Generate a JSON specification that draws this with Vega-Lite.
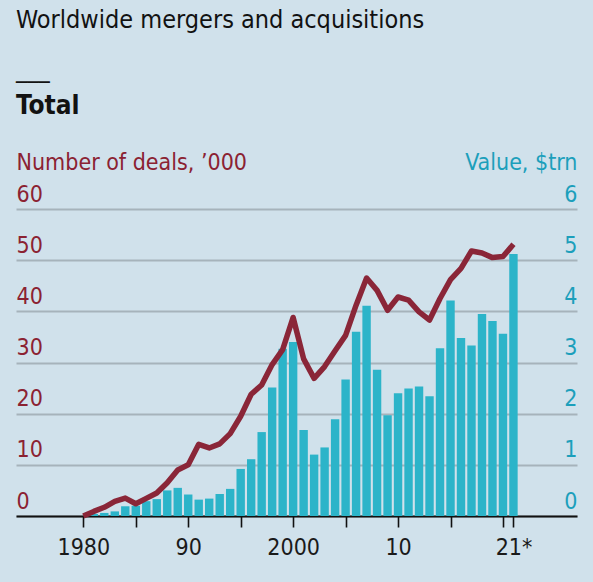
{
  "$schema": "https://vega.github.io/schema/vega-lite/v6.json",
  "width": 561,
  "height": 307,
  "autosize": {"type": "none"},
  "padding": {"left": 16, "top": 209, "right": 16, "bottom": 66},
  "background": "#d0e1eb",
  "config": {
    "view": {"stroke": null},
    "font": "Liberation Sans Narrow, DejaVu Sans Condensed, Liberation Sans"
  },
  "title": {
    "text": ["Worldwide mergers and acquisitions", "___"],
    "subtitle": "Total",
    "anchor": "start",
    "fontSize": 25,
    "lineHeight": 49,
    "fontWeight": "normal",
    "color": "#121212",
    "subtitleFontSize": 26,
    "subtitleFontWeight": "bold",
    "subtitleColor": "#121212",
    "subtitlePadding": 11,
    "offset": 32
  },
  "data": {
    "values": [
      {"year": 1980, "deals": 0, "value": null},
      {"year": 1981, "deals": 0.9, "value": 0.04},
      {"year": 1982, "deals": 1.7, "value": 0.06},
      {"year": 1983, "deals": 2.85, "value": 0.09},
      {"year": 1984, "deals": 3.5, "value": 0.19},
      {"year": 1985, "deals": 2.4, "value": 0.2},
      {"year": 1986, "deals": 3.45, "value": 0.29},
      {"year": 1987, "deals": 4.5, "value": 0.33},
      {"year": 1988, "deals": 6.5, "value": 0.5},
      {"year": 1989, "deals": 9.0, "value": 0.55},
      {"year": 1990, "deals": 10.0, "value": 0.42},
      {"year": 1991, "deals": 14.0, "value": 0.32},
      {"year": 1992, "deals": 13.3, "value": 0.34},
      {"year": 1993, "deals": 14.1, "value": 0.43},
      {"year": 1994, "deals": 16.1, "value": 0.53},
      {"year": 1995, "deals": 19.5, "value": 0.92},
      {"year": 1996, "deals": 23.8, "value": 1.11},
      {"year": 1997, "deals": 25.6, "value": 1.64},
      {"year": 1998, "deals": 29.6, "value": 2.51},
      {"year": 1999, "deals": 32.5, "value": 3.27},
      {"year": 2000, "deals": 38.8, "value": 3.4},
      {"year": 2001, "deals": 30.7, "value": 1.68},
      {"year": 2002, "deals": 26.9, "value": 1.2},
      {"year": 2003, "deals": 29.2, "value": 1.34},
      {"year": 2004, "deals": 32.3, "value": 1.89},
      {"year": 2005, "deals": 35.3, "value": 2.67},
      {"year": 2006, "deals": 41.2, "value": 3.6},
      {"year": 2007, "deals": 46.5, "value": 4.11},
      {"year": 2008, "deals": 44.1, "value": 2.86},
      {"year": 2009, "deals": 40.2, "value": 1.97},
      {"year": 2010, "deals": 42.8, "value": 2.4},
      {"year": 2011, "deals": 42.2, "value": 2.49},
      {"year": 2012, "deals": 39.9, "value": 2.53},
      {"year": 2013, "deals": 38.3, "value": 2.34},
      {"year": 2014, "deals": 42.5, "value": 3.28},
      {"year": 2015, "deals": 46.2, "value": 4.21},
      {"year": 2016, "deals": 48.4, "value": 3.48},
      {"year": 2017, "deals": 51.8, "value": 3.33},
      {"year": 2018, "deals": 51.4, "value": 3.95},
      {"year": 2019, "deals": 50.5, "value": 3.81},
      {"year": 2020, "deals": 50.7, "value": 3.56},
      {"year": 2021, "deals": 53.1, "value": 5.12}
    ]
  },
  "encoding": {
    "x": {
      "field": "year",
      "type": "quantitative",
      "scale": {"domain": [1974.06, 2026.58], "nice": false, "zero": false},
      "axis": {
        "title": null,
        "grid": false,
        "values": [1980, 1985, 1990, 1995, 2000, 2005, 2010, 2015, 2020, 2021],
        "labelExpr": "datum.value == 1980 ? '1980' : datum.value == 1990 ? '90' : datum.value == 2000 ? '2000' : datum.value == 2010 ? '10' : datum.value == 2021 ? '21*' : ''",
        "labelOverlap": false,
        "labelFlush": false,
        "labelFontSize": 23,
        "labelColor": "#1a1a1a",
        "labelPadding": 9,
        "tickSize": 11,
        "tickColor": "#111111",
        "tickWidth": 1.6,
        "domainColor": "#111111",
        "domainWidth": 2
      }
    }
  },
  "layer": [
    {
      "mark": {"type": "bar", "color": "#2cb4c9", "width": 8.4},
      "encoding": {
        "y": {
          "field": "value",
          "type": "quantitative",
          "scale": {"domain": [0, 6], "nice": false},
          "axis": {
            "orient": "right",
            "values": [0, 1, 2, 3, 4, 5, 6],
            "grid": false,
            "domain": false,
            "ticks": false,
            "tickSize": 0,
            "labelAlign": "right",
            "labelPadding": 0,
            "labelBaseline": "bottom",
            "labelOffset": -3,
            "labelFontSize": 23,
            "labelColor": "#1c9fbb",
            "title": "Value, $trn",
            "titleAngle": 0,
            "titleAlign": "right",
            "titleBaseline": "bottom",
            "titleX": 0,
            "titleY": -35,
            "titleFontSize": 23,
            "titleFontWeight": "normal",
            "titleColor": "#1c9fbb"
          }
        }
      }
    },
    {
      "mark": {"type": "line", "color": "#8a2638", "strokeWidth": 5.5, "strokeJoin": "round"},
      "encoding": {
        "y": {
          "field": "deals",
          "type": "quantitative",
          "scale": {"domain": [0, 60], "nice": false},
          "axis": {
            "orient": "left",
            "values": [0, 10, 20, 30, 40, 50, 60],
            "grid": true,
            "gridColor": "#a6b3bb",
            "gridWidth": 2,
            "domain": false,
            "ticks": false,
            "tickSize": 0,
            "labelAlign": "left",
            "labelPadding": 0,
            "labelBaseline": "bottom",
            "labelOffset": -3,
            "labelFontSize": 23,
            "labelColor": "#8b2232",
            "title": "Number of deals, ’000",
            "titleAngle": 0,
            "titleAlign": "left",
            "titleBaseline": "bottom",
            "titleX": 0,
            "titleY": -35,
            "titleFontSize": 23,
            "titleFontWeight": "normal",
            "titleColor": "#8b2232"
          }
        }
      }
    }
  ],
  "resolve": {"scale": {"y": "independent"}}
}
